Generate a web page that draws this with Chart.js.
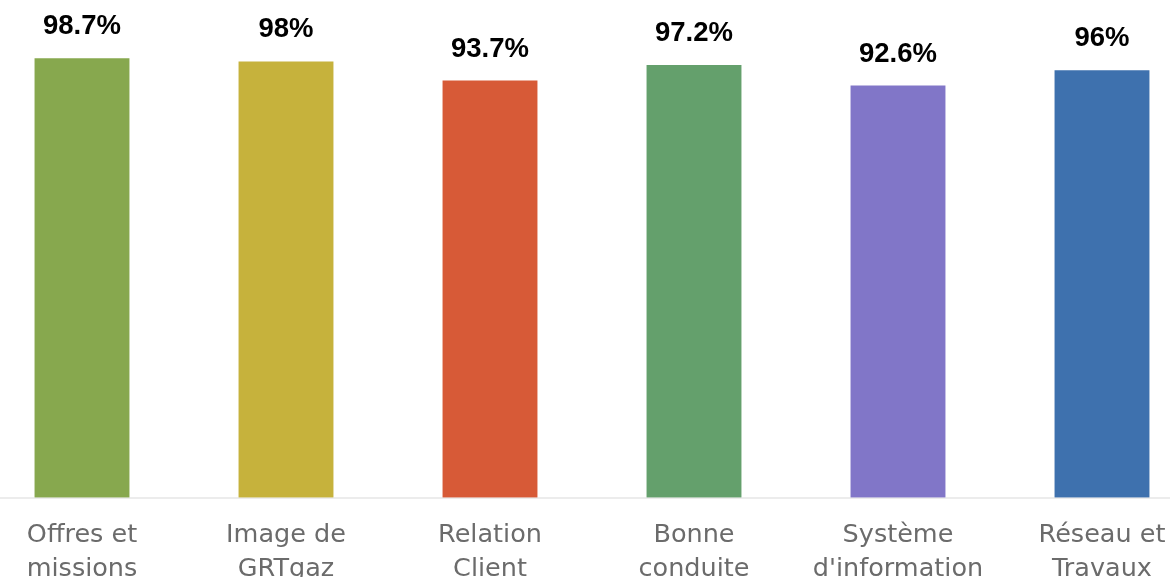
<!DOCTYPE html>
<html>
<head>
<meta charset="utf-8">
<script src="https://cdn.jsdelivr.net/npm/chart.js@4"></script>
<style>
html,body{margin:0;padding:0;background:#fff;overflow:hidden;width:1170px;height:577px;}
#wrap{position:absolute;left:-20px;top:0;width:1224px;height:607px;}
</style>
</head>
<body>
<div id="wrap"><canvas id="c"></canvas></div>
<script>
const categories = [
  ['Offres et', 'missions'],
  ['Image de', 'GRTgaz'],
  ['Relation', 'Client'],
  ['Bonne', 'conduite'],
  ['Système', "d'information"],
  ['Réseau et', 'Travaux']
];
const values = [98.7, 98, 93.7, 97.2, 92.6, 96];
const barColors = ['#87A84E', '#C6B23C', '#D75A37', '#64A06C', '#8176C8', '#3E71AE'];

const valueLabels = {
  id: 'valueLabels',
  afterDatasetsDraw(chart) {
    const ctx = chart.ctx;
    const meta = chart.getDatasetMeta(0);
    ctx.save();
    ctx.font = 'bold 27.5px "Liberation Sans", Arial, sans-serif';
    ctx.fillStyle = '#000';
    ctx.textAlign = 'center';
    ctx.textBaseline = 'alphabetic';
    meta.data.forEach((bar, i) => {
      ctx.fillText(values[i] + '%', bar.x, bar.y - 23);
    });
    ctx.restore();
  }
};

new Chart(document.getElementById('c'), {
  type: 'bar',
  data: {
    labels: categories,
    datasets: [{
      data: values,
      backgroundColor: barColors,
      borderColor: 'rgba(255,255,255,0.45)',
      borderWidth: 1,
      barPercentage: 0.5,
      categoryPercentage: 0.95
    }]
  },
  options: {
    responsive: true,
    maintainAspectRatio: false,
    animation: false,
    layout: { padding: { top: 51.5, left: 0, right: 0, bottom: 0 } },
    plugins: { legend: { display: false }, tooltip: { enabled: false } },
    scales: {
      x: {
        grid: { display: false, drawTicks: false },
        border: { display: true, color: '#ececec', width: 2 },
        ticks: {
          color: '#6b6b6b',
          padding: 20,
          maxRotation: 0,
          autoSkip: false,
          font: { family: '"DejaVu Sans", sans-serif', size: 25.5, lineHeight: 1.36 }
        }
      },
      y: {
        display: false,
        min: 0,
        max: 100
      }
    }
  },
  plugins: [valueLabels]
});
</script>
</body>
</html>
